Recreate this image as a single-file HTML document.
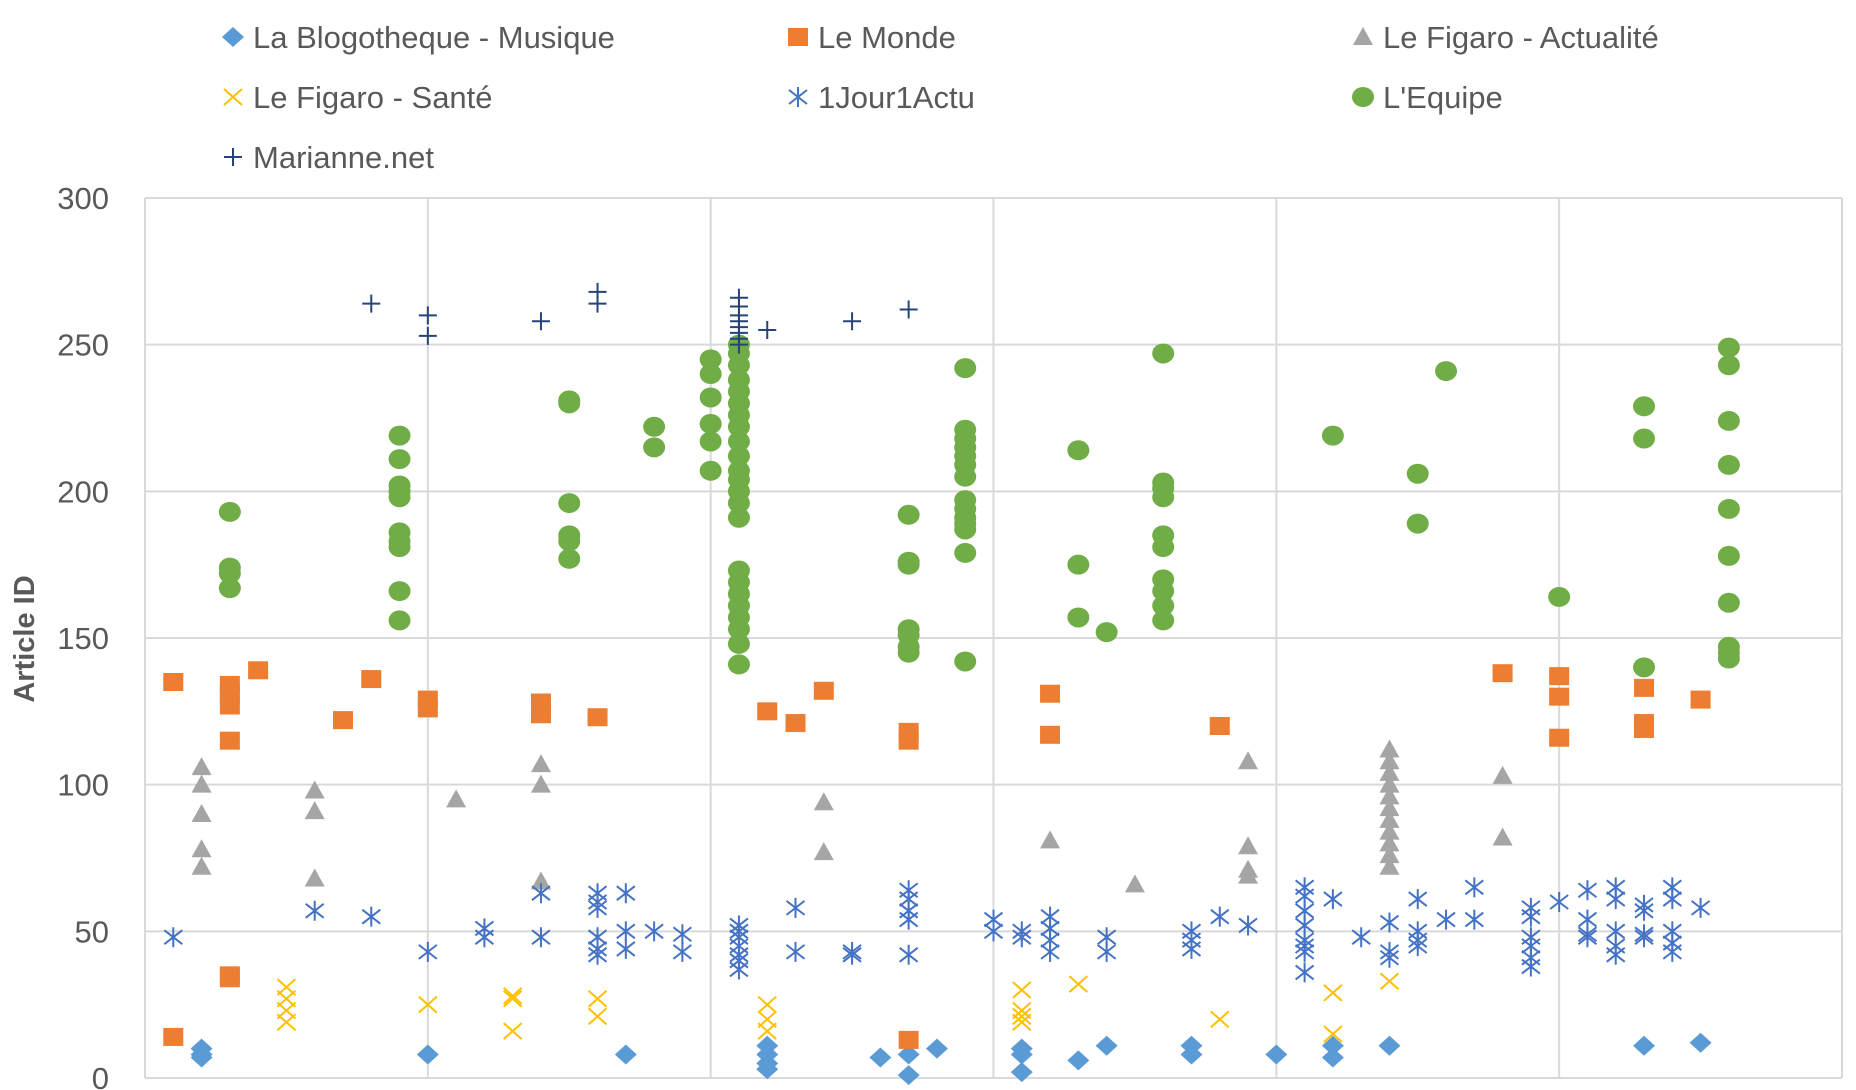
<!DOCTYPE html>
<html><head><meta charset="utf-8"><style>
html,body{margin:0;padding:0;background:#fff;}
svg{display:block;font-family:"Liberation Sans",sans-serif;}
</style></head><body>
<svg id="chart" width="1856" height="1090" viewBox="0 0 1856 1090"></svg>
<script>
const blogo=[[2,10],[2,8],[2,7],[10,8],[17,8],[22,11],[22,8],[22,5],[22,3],[26,7],[27,8],[27,1],[28,10],[31,10],[31,8],[31,2],[33,6],[34,11],[37,11],[37,8],[40,8],[42,11],[42,7],[44,11],[53,11],[55,12]];
const monde=[[1,135],[1,14],[3,134],[3,131],[3,127],[3,115],[3,35],[3,34],[4,139],[7,122],[8,136],[10,129],[10,126],[14,128],[14,124],[16,123],[22,125],[23,121],[24,132],[27,118],[27,115],[27,13],[32,131],[32,117],[38,120],[48,138],[50,137],[50,130],[50,116],[53,133],[53,121],[53,119],[55,129]];
const figActu=[[2,106],[2,100],[2,90],[2,78],[2,72],[6,98],[6,91],[6,68],[11,95],[14,107],[14,100],[14,67],[24,94],[24,77],[32,81],[35,66],[39,108],[39,79],[39,71],[39,69],[44,112],[44,108],[44,104],[44,100],[44,96],[44,92],[44,88],[44,84],[44,80],[44,76],[44,72],[48,103],[48,82]];
const figSante=[[5,31],[5,27],[5,23],[5,19],[10,25],[13,28],[13,27],[13,16],[16,27],[16,21],[22,25],[22,20],[22,16],[31,30],[31,23],[31,21],[31,19],[33,32],[38,20],[42,29],[42,15],[44,33]];
const jour=[[1,48],[6,57],[8,55],[10,43],[12,51],[12,48],[14,63],[14,48],[16,63],[16,60],[16,58],[16,48],[16,44],[16,42],[17,63],[17,50],[17,44],[18,50],[19,49],[19,43],[21,52],[21,50],[21,48],[21,45],[21,42],[21,40],[21,37],[23,58],[23,43],[25,43],[25,42],[27,64],[27,61],[27,57],[27,54],[27,42],[30,54],[30,50],[31,50],[31,48],[32,55],[32,51],[32,47],[32,43],[34,48],[34,43],[37,50],[37,47],[37,44],[38,55],[39,52],[41,65],[41,62],[41,57],[41,52],[41,47],[41,45],[41,43],[41,36],[42,61],[43,48],[44,53],[44,43],[44,41],[45,61],[45,50],[45,47],[45,45],[46,54],[47,65],[47,54],[49,58],[49,55],[49,48],[49,45],[49,41],[49,38],[50,60],[51,64],[51,54],[51,49],[51,48],[52,65],[52,61],[52,50],[52,45],[52,42],[53,59],[53,57],[53,49],[53,48],[54,65],[54,61],[54,50],[54,46],[54,43],[55,58]];
const equipe=[[3,193],[3,174],[3,172],[3,167],[9,219],[9,211],[9,202],[9,200],[9,198],[9,186],[9,183],[9,181],[9,166],[9,156],[15,231],[15,230],[15,196],[15,185],[15,183],[15,177],[18,222],[18,215],[20,245],[20,240],[20,232],[20,223],[20,217],[20,207],[21,250],[21,247],[21,243],[21,238],[21,234],[21,230],[21,226],[21,222],[21,217],[21,212],[21,207],[21,204],[21,200],[21,196],[21,191],[21,173],[21,169],[21,165],[21,161],[21,157],[21,153],[21,148],[21,141],[27,192],[27,176],[27,175],[27,153],[27,151],[27,147],[27,145],[29,242],[29,221],[29,218],[29,215],[29,212],[29,209],[29,205],[29,197],[29,194],[29,191],[29,189],[29,187],[29,179],[29,142],[33,214],[33,175],[33,157],[34,152],[36,247],[36,203],[36,201],[36,198],[36,185],[36,181],[36,170],[36,166],[36,161],[36,156],[42,219],[45,206],[45,189],[46,241],[50,164],[53,229],[53,218],[53,140],[56,249],[56,243],[56,224],[56,209],[56,194],[56,178],[56,162],[56,147],[56,145],[56,143]];
const marianne=[[8,264],[10,260],[10,253],[14,258],[16,268],[16,264],[21,266],[21,263],[21,260],[21,258],[21,256],[21,254],[21,252],[21,250],[22,255],[25,258],[27,262]];
const yTicks=[0,50,100,150,200,250,300];
const xGrid=[0,10,20,30,40,50,60];

const L=145,R=1842,T=198,B=1078;
const sx=v=>L+(R-L)*v/60, sy=v=>B-(B-T)*v/300;
const svg=document.getElementById('chart');
const NS='http://www.w3.org/2000/svg';
function mk(tag,attrs,parent){const e=document.createElementNS(NS,tag);for(const k in attrs)e.setAttribute(k,attrs[k]);(parent||svg).appendChild(e);return e;}

const grid=mk('g',{});


yTicks.forEach(t=>{mk('line',{x1:L,x2:R,y1:sy(t),y2:sy(t),stroke:'#d9d9d9','stroke-width':2},grid);
 const tx=mk('text',{x:109,y:sy(t)+11,'text-anchor':'end','font-size':31,fill:'#595959'});tx.textContent=t;
 
 });
xGrid.forEach(t=>{mk('line',{x1:sx(t),x2:sx(t),y1:T,y2:B,stroke:'#d9d9d9','stroke-width':2},grid);});

const yt=mk('text',{x:0,y:0,transform:'translate(34,639) rotate(-90)','text-anchor':'middle','font-size':29,'font-weight':'bold',fill:'#595959'});
yt.textContent='Article ID';



function marker(type,x,y,g){
 if(type==='diamond') mk('polygon',{points:`${x},${y-10} ${x+11},${y} ${x},${y+10} ${x-11},${y}`,fill:'#5b9bd5'},g);
 else if(type==='square') mk('rect',{x:x-10,y:y-9,width:20,height:18,fill:'#ed7d31'},g);
 else if(type==='tri') mk('polygon',{points:`${x},${y-10} ${x+10},${y+8} ${x-10},${y+8}`,fill:'#a5a5a5'},g);
 else if(type==='x') mk('path',{d:`M${x-9} ${y-8}L${x+9} ${y+8}M${x-9} ${y+8}L${x+9} ${y-8}`,stroke:'#ffc000','stroke-width':2,fill:'none'},g);
 else if(type==='star') mk('path',{d:`M${x-9} ${y-7}L${x+9} ${y+7}M${x-9} ${y+7}L${x+9} ${y-7}M${x} ${y-10}L${x} ${y+10}`,stroke:'#4472c4','stroke-width':2,fill:'none'},g);
 else if(type==='circle') mk('ellipse',{cx:x,cy:y,rx:11,ry:10,fill:'#70ad47'},g);
 else if(type==='plus') mk('path',{d:`M${x-9} ${y}L${x+9} ${y}M${x} ${y-9}L${x} ${y+9}`,stroke:'#264478','stroke-width':2,fill:'none'},g);
}
const series=[['blogotheque-series','diamond',blogo],['le-monde-series','square',monde],['figaro-actu-series','tri',figActu],['figaro-sante-series','x',figSante],['1jour1actu-series','star',jour],['equipe-series','circle',equipe],['marianne-series','plus',marianne]];
series.forEach(s=>{const g=mk('g',{});
 
 
 s[2].forEach(p=>marker(s[1],sx(p[0]),sy(p[1]),g));});

const legend=[['La Blogotheque - Musique','diamond',233,37],['Le Monde','square',798,37],['Le Figaro - Actualité','tri',1363,37],['Le Figaro - Santé','x',233,97],['1Jour1Actu','star',798,97],['L\'Equipe','circle',1363,97],['Marianne.net','plus',233,157]];
legend.forEach(l=>{const g=mk('g',{});
 
 
 marker(l[1],l[2],l[3],g);
 const t=mk('text',{x:l[2]+20,y:l[3]+11,'font-size':31,fill:'#595959'},g);t.textContent=l[0];});
</script>
</body></html>
